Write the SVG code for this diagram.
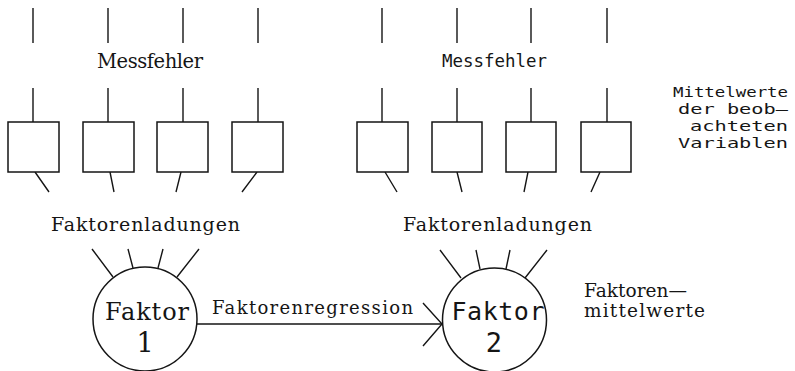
<svg xmlns="http://www.w3.org/2000/svg" width="795" height="371" viewBox="0 0 795 371">
<style>
.ln{stroke:#151515;stroke-width:1.4;fill:none}
.box{stroke:#151515;stroke-width:1.5;fill:#fff}
.serif{font-family:"DejaVu Serif","Liberation Serif",serif;fill:#151515}
.mono{font-family:"DejaVu Sans Mono","Liberation Mono",monospace;fill:#151515}
.side{font-family:"DejaVu Sans Mono","Liberation Mono",monospace;fill:#151515;font-size:14.6px;text-anchor:end}
</style>
<defs>
<marker id="chev" markerUnits="userSpaceOnUse" markerWidth="22" markerHeight="46" refX="20" refY="22" orient="auto" viewBox="0 0 22 46">
<path d="M1,1 L20,22 L1,44" fill="none" stroke="#151515" stroke-width="1.4"/>
</marker>
</defs>
<rect width="795" height="371" fill="#fff"/>
<g id="connectors">
<path class="ln" d="M33,8V43M108,8V43M183,8V43M258,8V43M382,8V43M457,8V43M531,8V43M607,8V43"/>
<path class="ln" d="M33,88V122M108,88V122M183,88V122M258,88V122M382,88V122M457,88V122M531,88V122M607,88V122"/>
<path class="ln" d="M35,172L49,192M110,172L114,192M181,172L176,192M257,172L242,192M385,172L397,192M457,172L462,192M528,172L524,192M600,172L591,192"/>
<path class="ln" d="M92,249L113,277M128,249L133,268M163,249L158,268M199,249L177,277"/>
<path class="ln" d="M440,250L461,278M476,250L480,269M510,250L506,269M547,250L525,278"/>
<line class="ln" x1="197" y1="324" x2="442" y2="324" marker-end="url(#chev)"/>
</g>
<g id="var1"><rect class="box" x="8" y="122" width="51" height="50"/></g>
<g id="var2"><rect class="box" x="83" y="122" width="51" height="50"/></g>
<g id="var3"><rect class="box" x="157" y="122" width="51" height="50"/></g>
<g id="var4"><rect class="box" x="232" y="122" width="51" height="50"/></g>
<g id="var5"><rect class="box" x="357" y="122" width="51" height="50"/></g>
<g id="var6"><rect class="box" x="432" y="122" width="50" height="50"/></g>
<g id="var7"><rect class="box" x="506" y="122" width="50" height="50"/></g>
<g id="var8"><rect class="box" x="581" y="122" width="50" height="50"/></g>
<g id="faktor1">
<circle class="box" cx="145" cy="319" r="52"/>
<text class="serif" x="147" y="320" font-size="24" text-anchor="middle" textLength="84">Faktor</text>
<text class="serif" x="145" y="352" font-size="27" text-anchor="middle">1</text>
</g>
<g id="faktor2">
<circle class="box" cx="494.5" cy="320" r="52"/>
<text class="mono" x="498" y="320" font-size="25" text-anchor="middle" textLength="93">Faktor</text>
<text class="mono" x="494" y="352" font-size="27" text-anchor="middle">2</text>
</g>
<g id="labels">
<text class="serif" x="97" y="68" font-size="19.5" textLength="106">Messfehler</text>
<text class="mono" x="442" y="67" font-size="18.5" textLength="105" lengthAdjust="spacingAndGlyphs">Messfehler</text>
<text class="serif" x="51" y="231" font-size="19" textLength="189">Faktorenladungen</text>
<text class="serif" x="403" y="231" font-size="19" textLength="189">Faktorenladungen</text>
<text class="serif" x="212" y="314" font-size="18" textLength="201">Faktorenregression</text>
<text class="serif" x="584" y="297" font-size="18.5" textLength="103">Faktoren—</text>
<text class="serif" x="584" y="317" font-size="18.5" textLength="121">mittelwerte</text>
<text class="side" x="788" y="97" textLength="115" lengthAdjust="spacingAndGlyphs">Mittelwerte</text>
<text class="side" x="788" y="114" textLength="110" lengthAdjust="spacingAndGlyphs">der beob—</text>
<text class="side" x="788" y="131" textLength="98" lengthAdjust="spacingAndGlyphs">achteten</text>
<text class="side" x="788" y="148" textLength="110" lengthAdjust="spacingAndGlyphs">Variablen</text>
</g>
</svg>
